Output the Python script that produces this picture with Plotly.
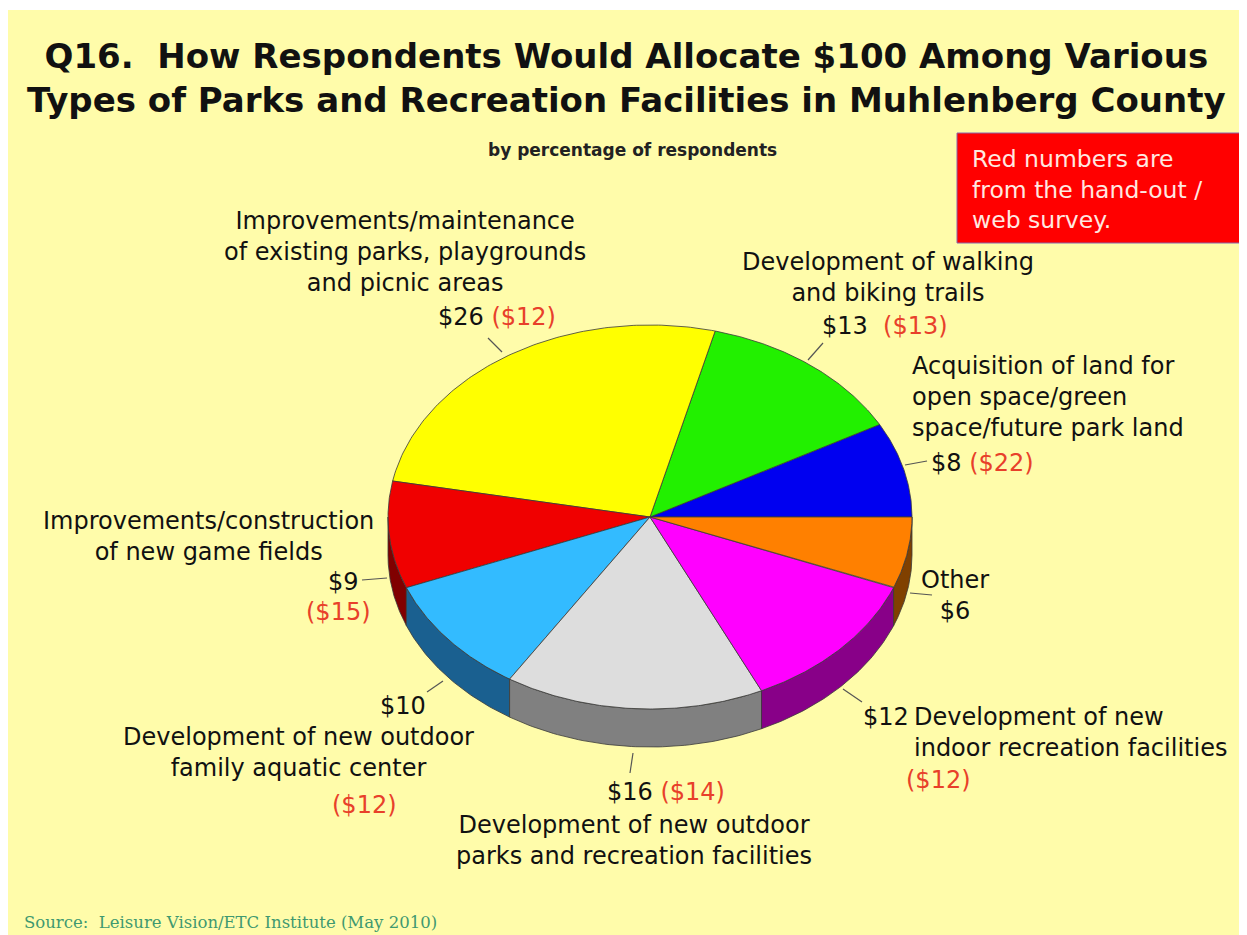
import numpy as np
import plotly.graph_objects as go

# Slices in drawing order (counter-clockwise from 3 o'clock)
categories = [
    "Acquisition of land for<br>open space/green<br>space/future park land",
    "Development of walking<br>and biking trails",
    "Improvements/maintenance<br>of existing parks, playgrounds<br>and picnic areas",
    "Improvements/construction<br>of new game fields",
    "Development of new outdoor<br>family aquatic center",
    "Development of new outdoor<br>parks and recreation facilities",
    "Development of new<br>indoor recreation facilities",
    "Other",
]
phone_values = [8, 13, 26, 9, 10, 16, 12, 6]
handout_values = [22, 13, 12, 15, 12, 14, 12, None]

top_colors = ["#0000F0", "#22F000", "#FFFF00", "#F00000", "#33BBFF", "#DDDDDD", "#FF00FF", "#FF8000"]
side_colors = ["#000080", "#118000", "#808000", "#800000", "#1A6090", "#808080", "#880088", "#804000"]

RED_TXT = "#E8402A"
BG = "#FFFCAA"
SANS = "DejaVu Sans, Arial"

# pie geometry in page pixels
CX, CY, RX, RY, DEPTH = 650, 517, 262, 192, 38

fig = go.Figure()

total = sum(phone_values)
bounds = np.concatenate([[0], np.cumsum(phone_values) / total * 360.0])


def ell(t, dy=0):
    r = np.radians(t)
    return CX + RX * np.cos(r), CY - RY * np.sin(r) + dy


# sides first (only the front half is visible)
for i in range(len(phone_values)):
    lo, hi = max(bounds[i], 180.0), min(bounds[i + 1], 360.0)
    if hi <= lo:
        continue
    ts = np.linspace(lo, hi, 60)
    xt, yt = ell(ts)
    xb, yb = ell(ts[::-1], DEPTH)
    fig.add_trace(go.Scatter(
        x=np.concatenate([xt, xb, xt[:1]]), y=np.concatenate([yt, yb, yt[:1]]),
        mode="lines", fill="toself", fillcolor=side_colors[i],
        line=dict(color="#3a3a3a", width=0.8), hoverinfo="skip", showlegend=False))

# top faces
for i in range(len(phone_values)):
    ts = np.linspace(bounds[i], bounds[i + 1], 120)
    xa, ya = ell(ts)
    fig.add_trace(go.Scatter(
        x=np.concatenate([[CX], xa, [CX]]), y=np.concatenate([[CY], ya, [CY]]),
        mode="lines", fill="toself", fillcolor=top_colors[i],
        line=dict(color="#3a3a3a", width=0.8), hoverinfo="skip", showlegend=False,
        name=categories[i].replace("<br>", " ")))


def money(v):
    return f"${v}"


def red(v):
    return f"<span style='color:{RED_TXT}'>(${v})</span>"


LBL = dict(family=SANS, size=24, color="#111111")
ann = []


def txt(x, y, text, xanchor="center", font=LBL):
    ann.append(dict(x=x, y=y, text=text, showarrow=False, xanchor=xanchor,
                    yanchor="middle", align=xanchor, font=font, xref="x", yref="y"))


# blue - acquisition
txt(910, 397, categories[0], "left")
txt(929, 463, f"{money(phone_values[0])} {red(handout_values[0])}", "left")
# green - trails
txt(888, 277, categories[1])
txt(885, 326, f"{money(phone_values[1])}  {red(handout_values[1])}")
# yellow - maintenance
txt(405, 252, categories[2])
txt(497, 317, f"{money(phone_values[2])} {red(handout_values[2])}")
# red - game fields
txt(208, 536, categories[3])
txt(343, 582, money(phone_values[3]))
txt(338, 612, red(handout_values[3]))
# light blue - aquatic
txt(403, 706, money(phone_values[4]))
txt(298, 752, categories[4])
txt(364, 805, red(handout_values[4]))
# gray - outdoor parks
txt(666, 792, f"{money(phone_values[5])} {red(handout_values[5])}")
txt(634, 840, categories[5])
# magenta - indoor
txt(886, 717, money(phone_values[6]))
txt(912, 732, categories[6], "left")
txt(938, 780, red(handout_values[6]))
# orange - other
txt(955, 595, f"{categories[7]}<br>{money(phone_values[7])}")

# title, subtitle, note, source
ann.append(dict(x=626, y=78, xref="x", yref="y", showarrow=False,
                text="<b>Q16.  How Respondents Would Allocate $100 Among Various<br>"
                     "Types of Parks and Recreation Facilities in Muhlenberg County</b>",
                font=dict(family=SANS, size=34, color="#111111")))
ann.append(dict(x=632, y=150, xref="x", yref="y", showarrow=False,
                text="<b>by percentage of respondents</b>",
                font=dict(family=SANS, size=17, color="#222222")))
ann.append(dict(x=970, y=189, xref="x", yref="y", showarrow=False, xanchor="left",
                align="left", text="Red numbers are<br>from the hand-out /<br>web survey.",
                font=dict(family=SANS, size=23.5, color="#FFE8E0")))
ann.append(dict(x=22, y=922, xref="x", yref="y", showarrow=False, xanchor="left",
                text="Source:  Leisure Vision/ETC Institute (May 2010)",
                font=dict(family="DejaVu Serif, Times New Roman", size=16.5, color="#3F9970")))

shapes = [
    dict(type="rect", xref="x", yref="y", x0=6, x1=1247, y0=10, y1=935,
         fillcolor=BG, line=dict(width=0), layer="below"),
    dict(type="rect", xref="x", yref="y", x0=957, x1=1243, y0=133, y1=243,
         fillcolor="#FF0000", line=dict(color="#8866AA", width=1), layer="below"),
]

# leader lines (label end -> slice edge)
leaders = [(927, 461, 905, 465), (823, 343, 808, 360), (488, 338, 502, 352),
           (362, 580, 387, 578), (427, 692, 443, 681), (630, 773, 633, 753),
           (862, 702, 843, 689), (932, 595, 910, 593)]
for x0, y0, x1, y1 in leaders:
    shapes.append(dict(type="line", xref="x", yref="y", x0=x0, y0=y0, x1=x1, y1=y1,
                       line=dict(color="#555555", width=1.2)))

# the page body has an 8px margin: shrink the figure and offset the ranges
# so that data units line up with page pixels
fig.update_layout(
    width=1239, height=927,
    margin=dict(l=0, r=0, t=0, b=0),
    paper_bgcolor="white", plot_bgcolor="white",
    xaxis=dict(range=[8, 1247], visible=False, fixedrange=True),
    yaxis=dict(range=[935, 8], visible=False, fixedrange=True),
    annotations=ann, shapes=shapes, showlegend=False,
)

fig.write_html("out.html")
